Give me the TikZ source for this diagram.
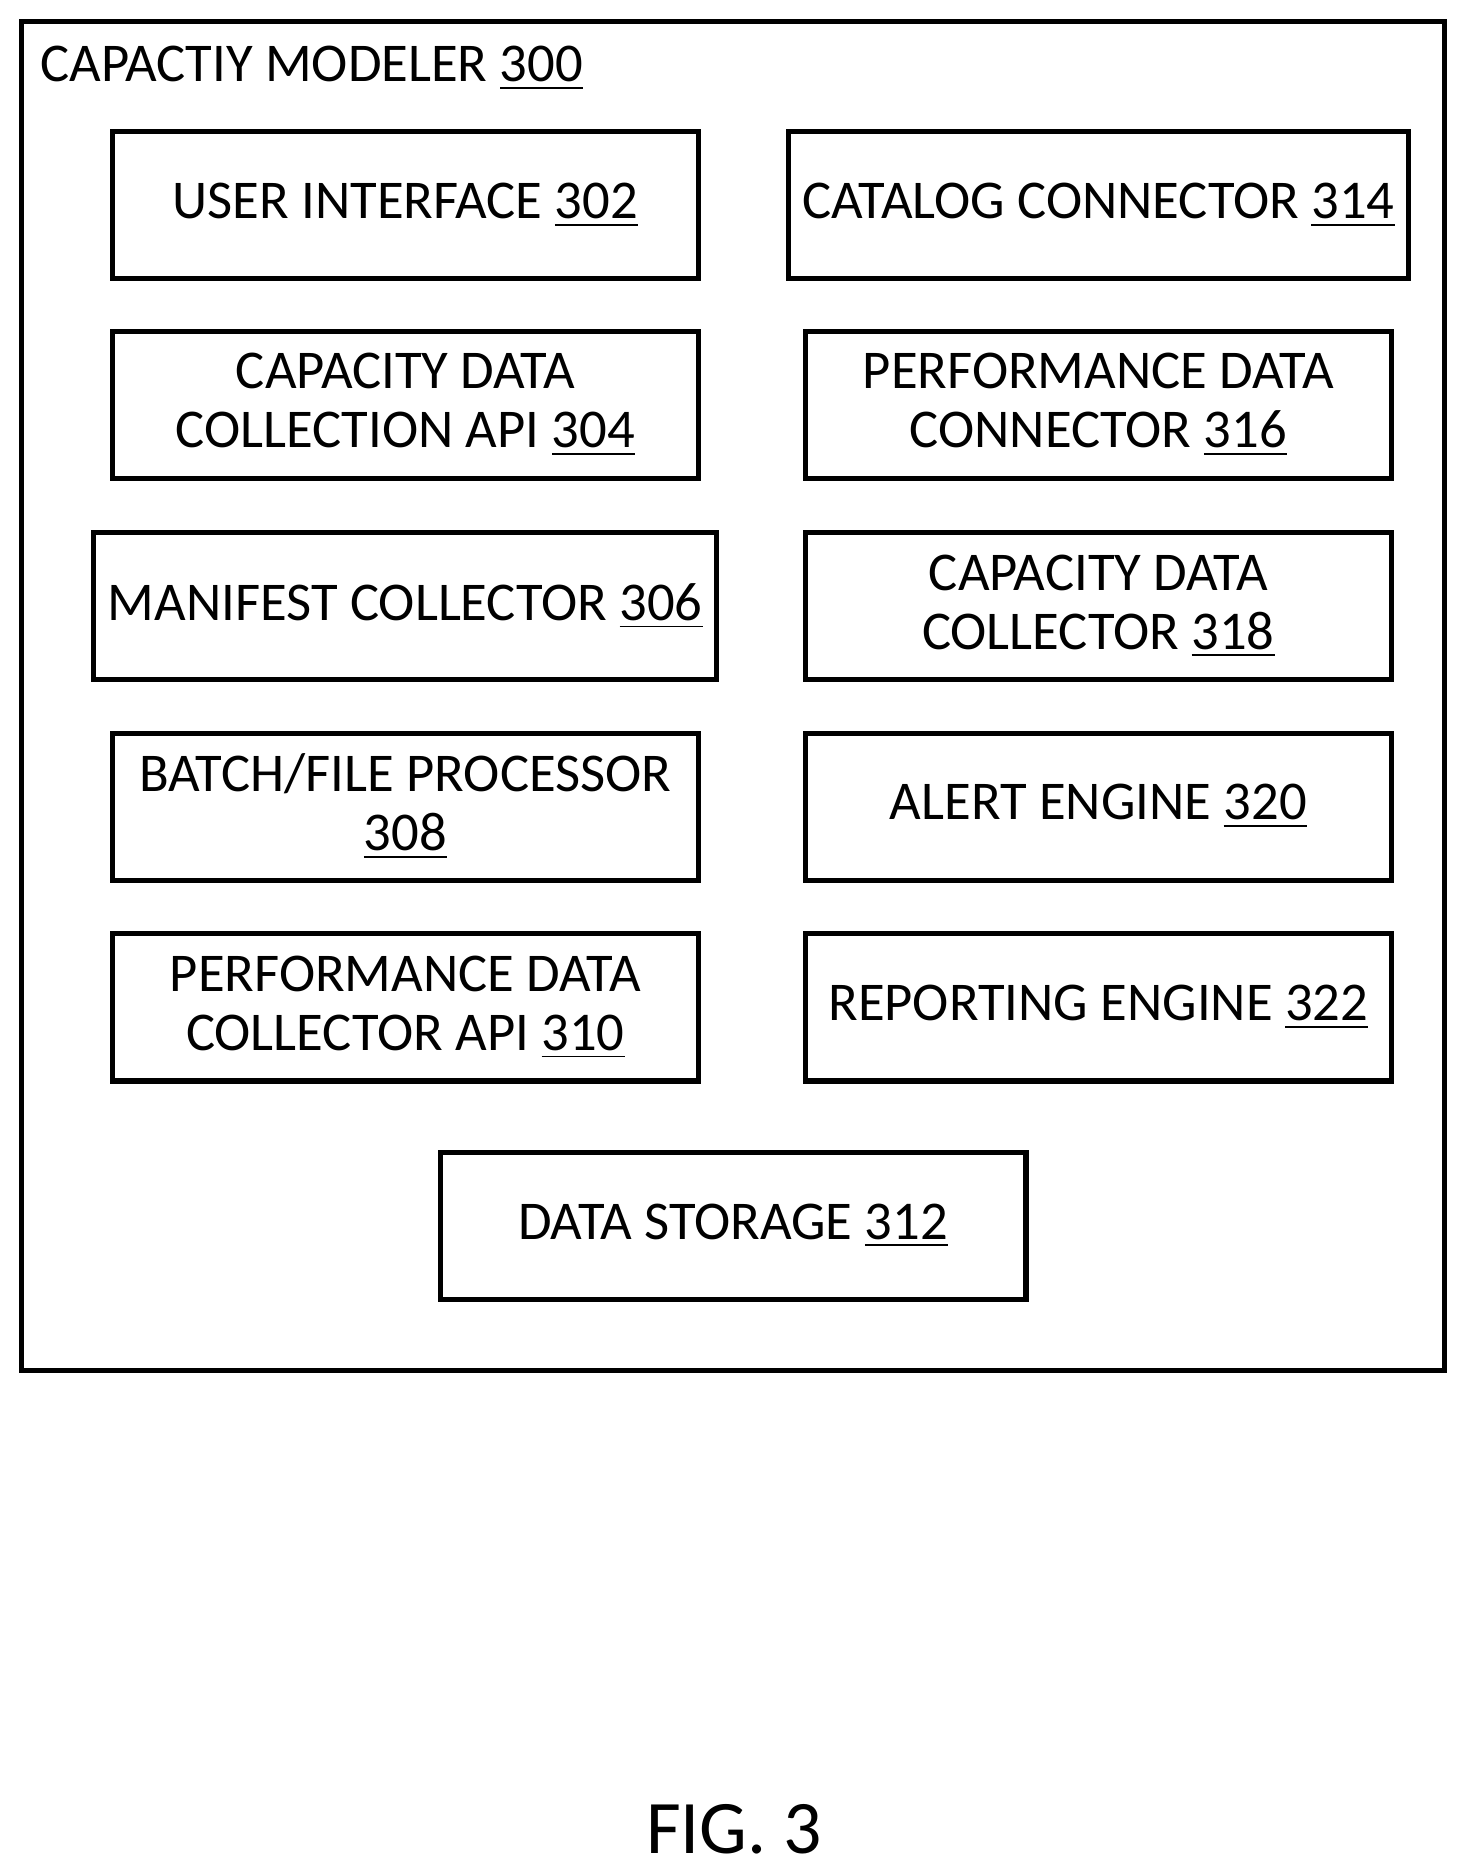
\documentclass[tikz,border=0pt]{standalone}
\usepackage{fontspec}
\setmainfont{Carlito}
\usepackage{tikz}
\usetikzlibrary{shapes, arrows.meta}
\newcommand{\refnum}[1]{\underline{#1}}
\tikzset{
  block/.style={draw=black, rectangle, line width=1.2pt, minimum width=4.9cm,
    minimum height=1.23cm, align=center, font=\fontsize{13}{14}\selectfont}
}
\begin{document}
\begin{tikzpicture}
\useasboundingbox (0,0) rectangle (12.27,-15.68);
\node[draw=black, line width=1.2pt, rectangle, minimum width=11.9cm, minimum height=11.28cm] (modeler) at (6.13,-5.82)
  {};
\node[anchor=west, inner sep=0pt, font=\fontsize{13}{14}\selectfont] (title) at (0.33,-0.57)
  {CAPACTIY MODELER \refnum{300}};

\node[block] (ui) at (3.39,-1.715)
  {USER INTERFACE \refnum{302}};
\node[block] (capapi) at (3.39,-3.385)
  {CAPACITY DATA\\COLLECTION API \refnum{304}};
\node[block] (manifest) at (3.39,-5.07)
  {MANIFEST COLLECTOR \refnum{306}};
\node[block] (batch) at (3.39,-6.745)
  {BATCH/FILE PROCESSOR\\\refnum{308}};
\node[block] (perfapi) at (3.39,-8.425)
  {PERFORMANCE DATA\\COLLECTOR API \refnum{310}};

\node[block] (catalog) at (9.185,-1.715)
  {CATALOG CONNECTOR \refnum{314}};
\node[block] (perfconn) at (9.185,-3.385)
  {PERFORMANCE DATA\\CONNECTOR \refnum{316}};
\node[block] (capcoll) at (9.185,-5.07)
  {CAPACITY DATA\\COLLECTOR \refnum{318}};
\node[block] (alert) at (9.185,-6.745)
  {ALERT ENGINE \refnum{320}};
\node[block] (report) at (9.185,-8.425)
  {REPORTING ENGINE \refnum{322}};

\node[block] (storage) at (6.13,-10.25)
  {DATA STORAGE \refnum{312}};

\node[font=\fontsize{18}{20}\selectfont] (fig) at (6.14,-15.3)
  {FIG. 3};
\end{tikzpicture}
\end{document}
